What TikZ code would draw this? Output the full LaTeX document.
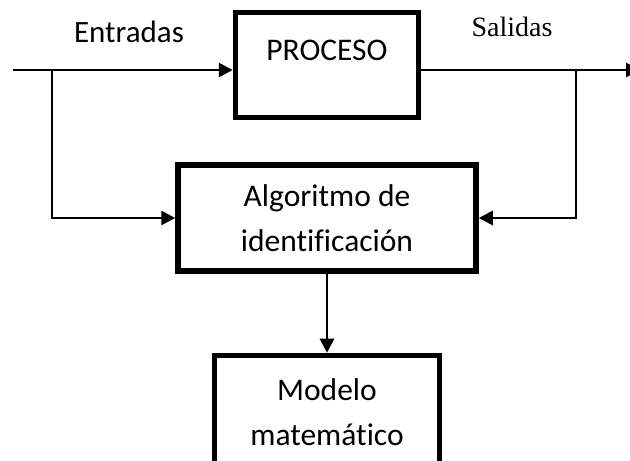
\documentclass[tikz,border=0pt]{standalone}
\usepackage{fontspec}
\setmainfont{Carlito}[Ligatures=NoCommon]
\newfontfamily\timesfont{Liberation Serif}
\usepackage{tikz}
\usetikzlibrary{calc, arrows.meta, positioning}

\begin{document}
\begin{tikzpicture}[x=1pt, y=1pt, line width=2.8pt, >={Triangle[length=14pt,width=14pt]},
   main node/.style={rectangle, draw, line width=5.5pt, align=center, font=\fontsize{31.5}{45}\selectfont},
   text node/.style={inner sep=0pt, font=\fontsize{31}{36}\selectfont}]
   \clip (0,0) rectangle (630,461);
   \node[main node, minimum width=183pt, minimum height=105pt, text depth=30pt] (0) at (327,396) {PROCESO};
   \node[main node, minimum width=298pt, minimum height=106pt] (1) [below of=0, node distance=153pt] {Algoritmo de\\identificación};
   \node[main node, minimum width=225pt, minimum height=114pt] (2) [below of=1, node distance=194.5pt] {Modelo\\matemático};

   \node[text node] (in label) at (129,429) {Entradas};
   \node[text node, font=\fontsize{28}{34}\timesfont] (out label) at (512,434) {Salidas};

   \coordinate (in) at (13,391);
   \coordinate (b1) at (52,391);
   \coordinate (b2) at (576,391);
   \coordinate (out) at (640,391);

   \draw[->] (in) -- (in -| 0.west);
   \draw[->] (b1) |- (1.west);
   \draw[->] (b2 -| 0.east) -- (out);
   \draw[->] (b2) |- (1.east);
   \draw[->] (1) -- (2);
\end{tikzpicture}
\end{document}
